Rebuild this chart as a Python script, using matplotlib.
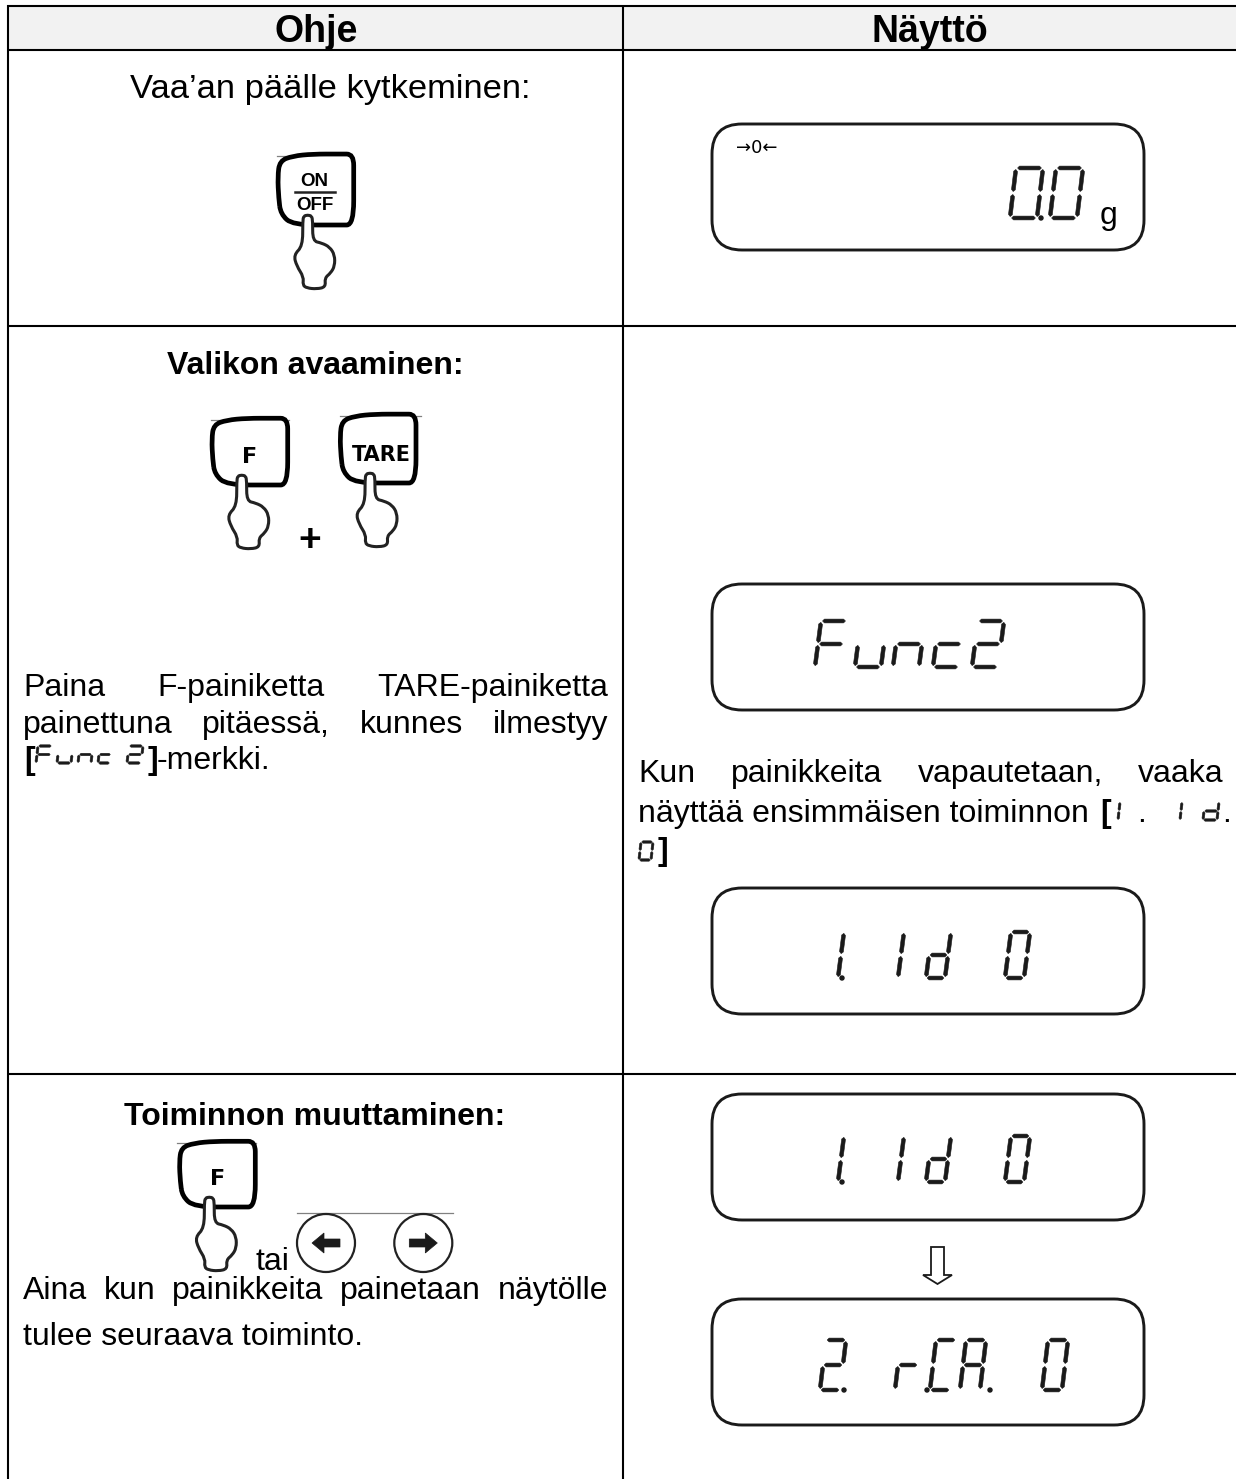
import matplotlib
matplotlib.use("Agg")
import matplotlib.pyplot as plt
import numpy as np
from matplotlib.patches import FancyBboxPatch, PathPatch, Polygon, Circle, Rectangle
from matplotlib.path import Path

# Table text
HEADERS = ["Ohje", "Näyttö"]
STEP_TITLES = ["Vaa’an päälle kytkeminen:", "Valikon avaaminen:", "Toiminnon muuttaminen:"]
PAINA_LINES = ["Paina F-painiketta TARE-painiketta", "painettuna pitäessä, kunnes ilmestyy"]
KUN_LINES = ["Kun painikkeita vapautetaan, vaaka"]
KUN_SECOND = "näyttää ensimmäisen toiminnon"
AINA_LINES = ["Aina kun painikkeita painetaan näytölle"]
AINA_LAST = "tulee seuraava toiminto."

# Display contents, glyph + left edge (px)
LCD_ZERO = [("0", 1010), ("0", 1050)]
LCD_FUNC = [("F", 815), ("u", 855), ("n", 893), ("c", 933), ("2", 972)]
LCD_ID = [("1", 819), ("1", 879), ("d", 926), ("0", 1005)]
LCD_RCA = [("2", 820), ("r", 895), ("C", 930), ("A", 960), ("0", 1042)]

# Which segments are lit for each glyph
SEGMENTS = {
    "0": "abcdef", "1": "bc", "2": "abged", "F": "afeg", "u": "cde", "n": "ceg",
    "c": "deg", "d": "bcdeg", "C": "adef", "A": "abcefg", "r": "eg",
}

F_FONT = "Liberation Sans"
BODY = 23
INK = "#1a1a1a"

fig = plt.figure(figsize=(12.36, 14.79), dpi=100)
ax = fig.add_axes([0, 0, 1, 1])
ax.set_xlim(0, 1236)
ax.set_ylim(1479, 0)
ax.axis("off")
plt.rcParams["font.family"] = [F_FONT, "DejaVu Sans"]


def segment(p, q, t):
    # tapered lcd bar from p to q
    p, q = np.array(p, dtype=float), np.array(q, dtype=float)
    d = (q - p) / np.hypot(*(q - p))
    n = np.array([-d[1], d[0]])
    pts = [p, p + d * t / 2 + n * t / 2, q - d * t / 2 + n * t / 2, q,
           q - d * t / 2 - n * t / 2, p + d * t / 2 - n * t / 2]
    ax.add_patch(Polygon(pts, closed=True, fc=INK, ec=INK, lw=0.4, joinstyle="round", zorder=4))


def seven_seg(glyph, x, top, w=27, h=46, slant=6, t=3.8, dot=None):
    tl = (x + slant, top)
    tr = (x + slant + w, top)
    ml = (x + slant / 2, top + h / 2)
    mr = (x + slant / 2 + w, top + h / 2)
    bl = (x, top + h)
    br = (x + w, top + h)
    segs = {"a": (tl, tr), "b": (tr, mr), "c": (mr, br), "d": (bl, br),
            "e": (ml, bl), "f": (tl, ml), "g": (ml, mr)}
    for name in SEGMENTS[glyph]:
        p, q = segs[name]
        gap = 0.06
        a = (p[0] + (q[0] - p[0]) * gap, p[1] + (q[1] - p[1]) * gap)
        b = (q[0] - (q[0] - p[0]) * gap, q[1] - (q[1] - p[1]) * gap)
        segment(a, b, t)
    if dot is not None:
        ax.add_patch(Circle((x + w + dot, top + h), 2, color=INK, zorder=4))


def lcd_box(top, glyphs, gtop, gh, gw=24, dots=None):
    dots = dots or {}
    ax.add_patch(FancyBboxPatch((742, top + 30), 372, 66, boxstyle="round,pad=30,rounding_size=30",
                                fc="white", ec=INK, lw=2.1, zorder=3))
    for i, (g, x) in enumerate(glyphs):
        seven_seg(g, x, gtop, w=gw, h=gh, dot=dots.get(i))


def smooth_shape(points, **kw):
    # closed quadratic b-spline through the midpoints
    verts, codes = [], []
    n = len(points)
    for i in range(n):
        a, b = points[i], points[(i + 1) % n]
        mid = ((a[0] + b[0]) / 2, (a[1] + b[1]) / 2)
        if i == 0:
            verts.append(mid)
            codes.append(Path.MOVETO)
        else:
            verts.extend([a, mid])
            codes.extend([Path.CURVE3, Path.CURVE3])
    a, b = points[0], points[1]
    verts.extend([a, ((a[0] + b[0]) / 2, (a[1] + b[1]) / 2)])
    codes.extend([Path.CURVE3, Path.CURVE3])
    ax.add_patch(PathPatch(Path(verts, codes), **kw))


HAND = [(-5, 30), (-5, 5), (-4, 0), (0, -1), (4, 0), (5, 5), (5, 25), (14, 27), (22, 31), (27, 39),
        (27, 50), (23, 57), (17, 62), (18, 71), (9, 73), (-1, 72), (-5, 69), (-4, 61), (-11, 50), (-14, 39)]
BUTTON = [(-27, -2), (-29, -18), (-30, -40), (-28, -56), (-15, -61), (5, -63), (32, -63), (46, -63),
          (46, -40), (46, 9), (32, 9), (-15, 9)]


def key(tip_x, tip_y, label, line_y, line_x0, line_x1, top):
    ax.plot([line_x0, line_x1], [line_y, line_y], color="#808080", lw=0.9, zorder=1)
    height = tip_y - top
    pts = [(tip_x + px, tip_y + (py * height / 60 if py < 0 else py)) for px, py in BUTTON]
    smooth_shape(pts, fc="white", ec="black", lw=3.4, zorder=2)
    hand = [(tip_x + px, tip_y + py) for px, py in HAND]
    smooth_shape(hand, fc="white", ec="#222222", lw=2.2, zorder=3)
    if label == "ONOFF":
        ax.text(tip_x + 7, tip_y - 35, "ON", ha="center", va="center", fontsize=13.5, fontweight="bold")
        ax.plot([tip_x - 13, tip_x + 27], [tip_y - 24, tip_y - 24], color="#222222", lw=1.8)
        ax.text(tip_x + 7, tip_y - 11, "OFF", ha="center", va="center", fontsize=13.5, fontweight="bold")
    else:
        ax.text(tip_x + (11 if label == "TARE" else 8), tip_y - 19, label, ha="center", va="center",
                family="DejaVu Sans", fontweight="bold", fontsize=15 if label == "TARE" else 16)


def round_key(cx, cy, sign):
    ax.add_patch(Circle((cx, cy), 29, fc="white", ec="#222222", lw=1.6))
    ax.add_patch(Polygon([(cx + sign * 14, cy), (cx + sign * 2, cy - 10), (cx + sign * 2, cy - 4),
                          (cx - sign * 14, cy - 4), (cx - sign * 14, cy + 4), (cx + sign * 2, cy + 4),
                          (cx + sign * 2, cy + 10)], closed=True, fc=INK, ec=INK, lw=0.5))


def justified(text, x0, x1, base, size=BODY):
    # spread the words so the line fills x0..x1
    words = text.split()
    r = fig.canvas.get_renderer()
    handles = [ax.text(0, base, w, fontsize=size, va="baseline", ha="left", color="black") for w in words]
    widths = [t.get_window_extent(r).width for t in handles]
    gap = (x1 - x0 - sum(widths)) / (len(words) - 1)
    x = x0
    for t, wd in zip(handles, widths):
        t.set_x(x)
        x += wd + gap


# table frame
ax.add_patch(Rectangle((8, 6), 1228, 44, fc="#f2f2f2", ec="none", zorder=0))
for y in [6, 50, 326, 1074]:
    ax.plot([7, 1236], [y, y], color="black", lw=1.5, solid_capstyle="butt", zorder=1)
ax.plot([8, 8], [5, 1479], color="black", lw=1.5, solid_capstyle="butt", zorder=1)
ax.plot([623, 623], [5, 1479], color="black", lw=1.5, solid_capstyle="butt", zorder=1)

ax.text(316, 42, HEADERS[0], ha="center", va="baseline", fontsize=27, fontweight="bold")
ax.text(930, 42, HEADERS[1], ha="center", va="baseline", fontsize=27, fontweight="bold")

ax.text(330, 98, STEP_TITLES[0], ha="center", va="baseline", fontsize=24.8)
ax.text(315, 374, STEP_TITLES[1], ha="center", va="baseline", fontsize=BODY, fontweight="bold")
ax.text(315, 1125, STEP_TITLES[2], ha="center", va="baseline", fontsize=BODY, fontweight="bold")

# keys
key(307.7, 216, "ONOFF", 156, 277, 353, 157)
key(241.7, 476, "F", 420, 211, 289, 421)
key(370, 474, "TARE", 416, 340, 421, 417)
ax.text(310, 551, "+", ha="center", va="baseline", fontsize=28, fontweight="bold")
key(209.3, 1198, "F", 1143, 177, 256, 1144)
ax.plot([297, 453], [1213, 1213], color="#808080", lw=0.9, zorder=1)
round_key(326, 1243, -1)
round_key(423.3, 1243, 1)
ax.text(256, 1270, "tai", ha="left", va="baseline", fontsize=BODY)

# left column text
fig.canvas.draw()
justified(PAINA_LINES[0], 23, 608, 696)
justified(PAINA_LINES[1], 23, 608, 733)
ax.text(24, 769, "[", fontsize=BODY, fontweight="bold", va="baseline")
for g, x, w in [("F", 36, 14), ("u", 57, 14), ("n", 78, 13), ("c", 98, 12), ("2", 127, 14)]:
    seven_seg(g, x, 746, w=w, h=17, slant=2, t=2.4)
ax.text(148, 769, "]", fontsize=BODY, fontweight="bold", va="baseline")
ax.text(157, 769, "-merkki.", fontsize=BODY, va="baseline")
justified(AINA_LINES[0], 23, 608, 1299)
ax.text(23, 1345, AINA_LAST, fontsize=BODY, va="baseline")

# right column text
justified(KUN_LINES[0], 638, 1224, 782)
ax.text(638, 822, KUN_SECOND, fontsize=BODY, va="baseline")
ax.text(1100, 822, "[", fontsize=BODY, fontweight="bold", va="baseline")
seven_seg("1", 1110, 802, w=8, h=18, slant=2, t=2.4)
ax.text(1137, 822, ".", fontsize=BODY, va="baseline")
seven_seg("1", 1172, 802, w=8, h=18, slant=2, t=2.4)
seven_seg("d", 1203, 802, w=14, h=18, slant=2, t=2.4)
ax.text(1222, 822, ".", fontsize=BODY, va="baseline")
seven_seg("0", 639, 842, w=12, h=18, slant=2, t=2.4)
ax.text(658, 860, "]", fontsize=BODY, fontweight="bold", va="baseline")

# displays
lcd_box(124, LCD_ZERO, 168, 50, gw=27, dots={0: 4})
ax.text(757, 148, "→0←", ha="center", va="center", family="DejaVu Sans", fontsize=13, zorder=5)
ax.text(1100, 224, "g", ha="left", va="baseline", fontsize=BODY, zorder=5)
lcd_box(584, LCD_FUNC, 621, 46, gw=26)
lcd_box(888, LCD_ID, 932, 46, gw=19, dots={0: 4})
lcd_box(1094, LCD_ID, 1136, 46, gw=19, dots={0: 4})
lcd_box(1299, LCD_RCA, 1340, 50, gw=20, dots={0: 4, 1: 12, 3: 10})

# arrow between the two displays
ax.add_patch(Polygon([(931, 1247), (944, 1247), (944, 1275), (952, 1275), (937.5, 1284), (923, 1275), (931, 1275)],
                     closed=True, fc="white", ec=INK, lw=1.3, zorder=4))

fig.savefig("out.png", dpi=100)
